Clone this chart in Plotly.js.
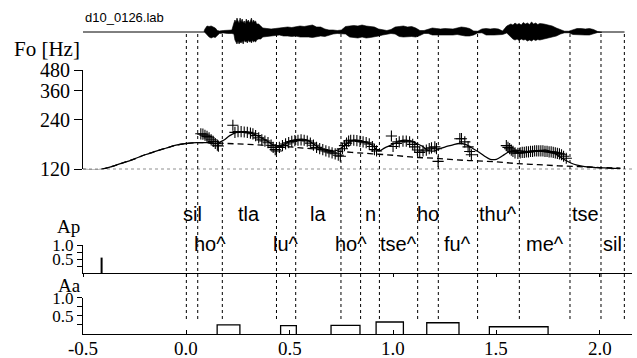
<!DOCTYPE html>
<html><head><meta charset="utf-8">
<script src="https://cdn.plot.ly/plotly-3.0.1.min.js"></script>
<style>html,body{margin:0;padding:0;background:#fff}#c{width:637px;height:358px}</style>
</head><body><div id="c"></div>
<script>
// ---- data ----
const fileLabel = 'd10_0126.lab';
// waveform amplitude envelope (upper / lower)
const waveT = [0.085,0.09,0.1,0.11,0.12,0.13,0.14,0.15,0.16,0.18,0.2,0.22,0.23,0.235,0.24,0.245,0.25,0.255,0.26,0.265,0.27,0.275,0.28,0.285,0.29,0.295,0.30,0.305,0.31,0.315,0.32,0.325,0.33,0.335,0.34,0.35,0.36,0.37,0.39,0.41,0.43,0.45,0.47,0.49,0.51,0.53,0.55,0.57,0.59,0.61,0.63,0.65,0.67,0.69,0.71,0.73,0.75,0.77,0.79,0.81,0.83,0.85,0.87,0.89,0.91,0.93,0.95,0.97,0.99,1.01,1.03,1.05,1.07,1.09,1.11,1.13,1.15,1.17,1.19,1.21,1.23,1.25,1.27,1.29,1.31,1.33,1.35,1.37,1.39,1.41,1.43,1.45,1.47,1.49,1.51,1.53,1.55,1.57,1.58,1.59,1.60,1.61,1.62,1.63,1.64,1.65,1.66,1.67,1.68,1.69,1.70,1.71,1.73,1.75,1.77,1.79,1.81,1.83,1.85,1.87,1.89,1.91,1.93,1.95,1.97,1.99,2.01];
const waveUp = [0.5,3,6,5.5,6,5,4,1.5,1,1.5,1.5,2,9,12,10,14,11,9,14,10,13,9,11,8,13,10,12,9,11,14,9,12,10,11,8,8,6,4,3.5,3,3.5,4,4.5,5,4.5,5,6,5.5,6,7,5,5,3,2,2,1.5,2,5.5,6,6.5,6,7,6,5.5,5,3,2,1.5,2.5,5,5.5,6,5,5.5,4,1.5,1.5,3,4,3.5,3,3.5,3,3,4,5,4.5,3.5,1,0.8,3,3.5,3,3.5,3,1,6,8,7,9,7.5,8.5,7,9.5,8,9,7.5,10,8,9,7.5,8.5,8,7,6,4,2,0.8,0.8,2.5,3.5,3.5,3,3.5,2.5,0.5,0.3];
const waveLo = [0.5,3,5,6,5,5.5,4,1.5,1,1.5,1.5,2,8,10,12,9,12,10,11,9,12,8,10,9,11,8,10,9,11,8,10,9,10,8,7,7,5,4,3.5,3.5,3,4,4,4.5,4,5,5,5,5.5,5,4,4.5,3,2,1.5,1.5,2,5,5.5,6,5,6,5.5,5,4,3,2,1.5,2,4.5,5,5,4.5,5,3.5,1.5,1.5,3,3.5,3,3,3,3,2.5,3.5,4,4,3,1,0.8,3,3,3,3,2.5,1,5,7,8,7,8.5,7,8,7.5,9,8,9,7.5,8.5,7.5,8,7,6,5,4,2,0.8,0.8,2.5,3,3,3,3,2,0.5,0.3];
const waveSpan = [-0.5, 2.12];

// F0 model contour (Hz)
const modelT = [-0.5,-0.41,-0.35,-0.3,-0.25,-0.2,-0.15,-0.1,-0.05,0.0,0.05,0.1,0.15,0.18,0.21,0.24,0.27,0.30,0.33,0.36,0.39,0.42,0.45,0.48,0.51,0.54,0.57,0.60,0.63,0.66,0.69,0.72,0.75,0.78,0.81,0.84,0.87,0.90,0.93,0.96,0.99,1.02,1.05,1.08,1.11,1.14,1.17,1.20,1.23,1.26,1.29,1.32,1.35,1.38,1.41,1.44,1.47,1.50,1.53,1.56,1.59,1.62,1.65,1.68,1.71,1.74,1.77,1.80,1.83,1.86,1.89,1.92,1.95,1.98,2.01,2.04,2.07,2.10];
const modelF = [120,120,126,132,139,147,154,161,168,172,174,174,173,180,192,200,203,201,195,187,178,169,166,172,179,182,182,176,166,158,155,155,162,173,180,179,175,168,155,162,168,175,180,179,173,166,156,155,161,165,169,172,170,162,154,145,138,138,145,153,156,155,154,155,156,157,153,145,137,131,127,125,124,123,122.5,122,121.5,121];
// phrase component (Hz)
const phraseT = [-0.41,-0.35,-0.3,-0.25,-0.2,-0.15,-0.1,-0.05,0.0,0.05,0.1,0.2,0.3,0.4,0.5,0.6,0.7,0.8,0.9,1.0,1.1,1.2,1.3,1.4,1.5,1.6,1.7,1.8,1.9,2.0,2.1];
const phraseF = [120,126,132,139,147,154,161,168,172,174,174,172,170,167,164,160,156,152,149,146,142,140,137,135,133,130,128,126,124.5,123,122];
// observed F0 (Hz)
const obsT = [0.07,0.08,0.09,0.10,0.11,0.12,0.13,0.14,0.15,0.155,0.225,0.235,0.25,0.265,0.28,0.295,0.31,0.322,0.335,0.35,0.365,0.38,0.395,0.41,0.42,0.43,0.436,0.45,0.465,0.48,0.495,0.51,0.525,0.54,0.555,0.57,0.585,0.60,0.615,0.63,0.645,0.66,0.675,0.69,0.705,0.72,0.735,0.745,0.755,0.765,0.775,0.785,0.795,0.81,0.825,0.84,0.855,0.87,0.885,0.90,0.91,0.92,0.992,1.0,1.016,1.03,1.048,1.064,1.08,1.095,1.105,1.118,1.129,1.145,1.161,1.175,1.186,1.202,1.21,1.218,1.323,1.331,1.347,1.363,1.371,1.379,1.548,1.556,1.564,1.572,1.58,1.59,1.604,1.615,1.625,1.635,1.645,1.655,1.665,1.675,1.685,1.695,1.705,1.715,1.725,1.735,1.745,1.755,1.765,1.775,1.785,1.795,1.805,1.815,1.825,1.838];
const obsF = [197,196,193,190,186,181,177,172,168,166,222,201,203,203,202,201,199,197,192,186,181,178,174,168,163,158,155,163,167,171,174,177,179,180,181,180,178,173,168,163,160,158,155,153,151,149,146,144,160,167,173,178,180,180,179,177,176,174,171,165,158,155,191,165,172,176,178,178,176,170,164,157,152,155,157,160,162,164,160,134,184,184,176,164,154,147,167,163,160,157,154,151,150,151,152,152,153,153,154,154,155,155,155,155,155,154,154,153,153,152,151,150,149,147,144,140];
const baseF0 = 120;
const f0Ticks = [120,240,360,480];

// phrase command
const phraseOnset = [-0.41];
const phraseAmp = [0.55];
// accent commands
const accOn  = [0.149,0.456,0.70,0.918,1.163,1.466];
const accOff = [0.259,0.532,0.84,1.05,1.319,1.75];
const accAmp = [0.25,0.23,0.24,0.33,0.31,0.20];

// segment labels
const bounds = [0.0,0.055,0.174,0.436,0.529,0.748,0.843,0.934,1.119,1.219,1.409,1.611,1.856,2.006,2.119];
const phones = ['sil','ho^','tla','lu^','la','ho^','n','tse^','ho','fu^','thu^','me^','tse','sil'];
const timeTicks = [-0.5,0.0,0.5,1.0,1.5,2.0];
const timeTickText = ['-0.5','0.0','0.5','1.0','1.5','2.0'];

// ---- plot ----
const SERIF = 'Liberation Serif, Times New Roman, serif';
const SANS = 'Liberation Sans, Arial, sans-serif';
const K = '#000';
const XR = [-0.5, 2.156];
const PH = 334; // plot area height px
const py = p => (PH - p) / PH;

const traces = [];
// waveform
traces.push({x: waveSpan, y:[0,0], xaxis:'x', yaxis:'y', mode:'lines', line:{color:K,width:1}, hoverinfo:'skip'});
traces.push({x: waveT.concat(waveT.slice().reverse()), y: waveUp.concat(waveLo.slice().reverse().map(v=>-v)),
  xaxis:'x', yaxis:'y', mode:'lines', fill:'toself', fillcolor:K, line:{color:K,width:0.6}, hoverinfo:'skip'});
// base line 120
traces.push({x: XR, y:[baseF0,baseF0], xaxis:'x', yaxis:'y2', mode:'lines', line:{color:'#222',width:1.2,dash:'dot'}});
// phrase comp
traces.push({x: phraseT, y: phraseF, xaxis:'x', yaxis:'y2', mode:'lines', line:{color:K,width:1.3,dash:'6px,4px',shape:'spline'}});
// model
traces.push({x: modelT, y: modelF, xaxis:'x', yaxis:'y2', mode:'lines', line:{color:K,width:1.3,shape:'spline'}});
// observed
traces.push({x: obsT, y: obsF, xaxis:'x', yaxis:'y2', mode:'markers', marker:{symbol:'cross-thin',size:8,line:{color:K,width:1.1}}});
// Ap impulses
{
  const xs=[], ys=[];
  phraseOnset.forEach((t,i)=>{xs.push(t,t,null); ys.push(0,phraseAmp[i],null);});
  traces.push({x:xs, y:ys, xaxis:'x2', yaxis:'y3', mode:'lines', line:{color:K,width:2}});
}
// Aa rectangles
{
  const xs=[], ys=[];
  accOn.forEach((t,i)=>{xs.push(t,t,accOff[i],accOff[i],null); ys.push(0,accAmp[i],accAmp[i],0,null);});
  traces.push({x:xs, y:ys, xaxis:'x', yaxis:'y4', mode:'lines', line:{color:K,width:1.3}});
}

const shapes = bounds.map(b => ({type:'line', xref:'x', yref:'paper', x0:b, x1:b, y0:py(319), y1:py(32), line:{color:K,width:1,dash:'dot'}, layer:'below'}));

const annotations = [
  {text:fileLabel, xref:'paper', yref:'paper', x:0, y:py(17), xanchor:'left', yanchor:'middle', showarrow:false, font:{family:SANS,size:13,color:K}},
  {text:'Fo [Hz]', xref:'paper', yref:'paper', x:-0.002, y:py(49), xanchor:'right', yanchor:'middle', showarrow:false, font:{family:SERIF,size:21,color:K}},
  {text:'Ap', xref:'paper', yref:'paper', x:-0.002, y:py(226), xanchor:'right', yanchor:'middle', showarrow:false, font:{family:SERIF,size:19,color:K}},
  {text:'Aa', xref:'paper', yref:'paper', x:0, y:py(285), xanchor:'right', yanchor:'middle', showarrow:false, font:{family:SERIF,size:19,color:K}},
];
phones.forEach((p,i)=>{
  annotations.push({text:p, xref:'x', yref:'paper', x:(bounds[i]+bounds[i+1])/2, y: i%2===0 ? py(214) : py(244),
    xanchor:'center', yanchor:'middle', showarrow:false, font:{family:SANS,size:20,color:K}});
});
timeTicks.forEach((t,i)=>{
  annotations.push({text:timeTickText[i], xref:'x', yref:'paper', x:t, y:py(348), xanchor:'center', yanchor:'middle',
    height:18, valign:'middle', showarrow:false, font:{family:SERIF,size:19,color:K}});
});

const ax = {showgrid:false, zeroline:false, linecolor:K, tickcolor:K, linewidth:1};
const layout = {
  width:637, height:358, margin:{l:83,r:5,t:0,b:24},
  paper_bgcolor:'#fff', plot_bgcolor:'rgba(0,0,0,0)', showlegend:false,
  xaxis: Object.assign({}, ax, {anchor:'y4', range:XR, showline:true, ticks:'inside', ticklen:4,
    tickvals:timeTicks, showticklabels:false}),
  xaxis2: Object.assign({}, ax, {anchor:'y3', range:XR, showline:true, ticks:'outside', ticklen:3,
    tickvals:timeTicks, showticklabels:false}),
  yaxis: Object.assign({}, ax, {domain:[py(47),py(17)], range:[-15,15], visible:false, anchor:'x'}),
  yaxis2: Object.assign({}, ax, {domain:[py(169.3),py(70)], type:'log', range:[Math.log10(120),Math.log10(480)], anchor:'x',
    showline:true, ticks:'outside', ticklen:8, tickvals:f0Ticks, ticktext:f0Ticks.map(String), tickfont:{family:SERIF,size:20,color:K}}),
  yaxis3: Object.assign({}, ax, {domain:[py(273),py(245)], range:[0,1], anchor:'x2', showline:true, ticks:'outside', ticklen:5,
    tickvals:[0.25,0.5,0.75,1.0], ticktext:['','0.5','','1.0'], tickfont:{family:SERIF,size:17,color:K}}),
  yaxis4: Object.assign({}, ax, {domain:[0,py(297.7)], range:[0,1], anchor:'x', showline:true, ticks:'outside', ticklen:5,
    tickvals:[0.25,0.5,0.75,1.0], ticktext:['','0.5','','1.0'], tickfont:{family:SERIF,size:17,color:K}}),
  shapes, annotations
};
Plotly.newPlot('c', traces, layout, {staticPlot:true, displayModeBar:false});
</script></body></html>
